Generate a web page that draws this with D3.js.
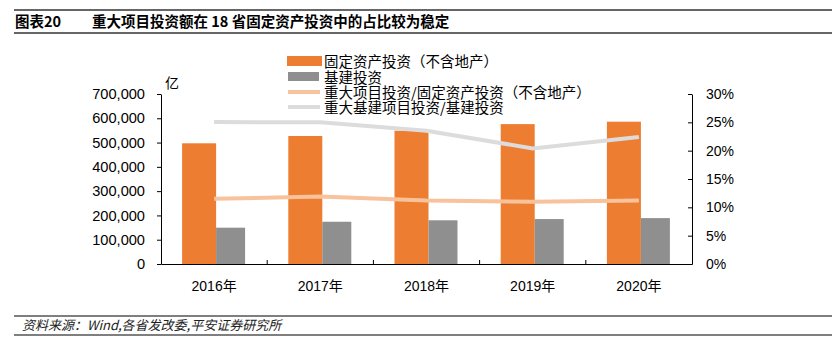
<!DOCTYPE html>
<html><head><meta charset="utf-8">
<script src="https://cdn.jsdelivr.net/npm/d3@7"></script>
<style>
body{margin:0;background:#fff;}
text{font-family:"Liberation Sans","Noto Sans CJK SC",Arial,sans-serif;}
</style></head>
<body><svg id="c" width="837" height="355"></svg>
<script>
const categories = ["2016年","2017年","2018年","2019年","2020年"];
const fixedInvest = [497000, 527000, 549000, 576000, 586000];
const infraInvest = [149500, 174000, 180000, 185000, 189000];
const majorShareFixed = [0.115, 0.119, 0.112, 0.110, 0.112];
const majorInfraShare = [0.2505, 0.250, 0.235, 0.204, 0.224];
const leftTicks = [0,100000,200000,300000,400000,500000,600000,700000];
const rightTicks = [0,0.05,0.10,0.15,0.20,0.25,0.30];
const seriesNames = ["固定资产投资（不含地产）","基建投资","重大项目投资/固定资产投资（不含地产）","重大基建项目投资/基建投资"];
const colors = ["#ED7D31","#8F8F8F","#F8C29C","#DCDCDC"];

const svg = d3.select("#c");
const cjk = '"Noto Sans CJK SC","Liberation Sans",sans-serif';

// Title block
svg.append("line").attr("x1",14).attr("x2",832).attr("y1",10).attr("y2",10).attr("stroke","#666").attr("stroke-width",2);
svg.append("line").attr("x1",14).attr("x2",832).attr("y1",33).attr("y2",33).attr("stroke","#666").attr("stroke-width",2);
svg.append("text").attr("x",15).attr("y",27).attr("font-size",14.5).attr("font-weight","bold").style("font-family",cjk).attr("fill","#000").text("图表20");
svg.append("text").attr("x",92).attr("y",27).attr("font-size",14.5).attr("font-weight","bold").style("font-family",cjk).attr("fill","#000").text("重大项目投资额在 18 省固定资产投资中的占比较为稳定");

// Footer
svg.append("line").attr("x1",14).attr("x2",832).attr("y1",316).attr("y2",316).attr("stroke","#555").attr("stroke-width",1.5);
svg.append("line").attr("x1",14).attr("x2",832).attr("y1",335).attr("y2",335).attr("stroke","#555").attr("stroke-width",1.5);
svg.append("text").attr("x",22).attr("y",330).attr("font-size",13).attr("font-style","italic").style("font-family",cjk).attr("fill","#222").text("资料来源：Wind,各省发改委,平安证券研究所");

const x = d3.scaleBand().domain(categories).range([161,692]).padding(0);
const yL = d3.scaleLinear().domain([0,700000]).range([264,94]);
const yR = d3.scaleLinear().domain([0,0.30]).range([264,94]);
const bw = x.bandwidth();

// Bars
const g = svg.append("g");
g.selectAll(".b1").data(categories).enter().append("rect")
  .attr("x",d=>x(d)+bw/2-32).attr("width",34)
  .attr("y",(d,i)=>yL(fixedInvest[i])).attr("height",(d,i)=>yL(0)-yL(fixedInvest[i]))
  .attr("fill",colors[0]);
g.selectAll(".b2").data(categories).enter().append("rect")
  .attr("x",d=>x(d)+bw/2+2).attr("width",29)
  .attr("y",(d,i)=>yL(infraInvest[i])).attr("height",(d,i)=>yL(0)-yL(infraInvest[i]))
  .attr("fill",colors[1]);

// Lines
const line = d3.line().x(d=>x(d.c)+bw/2).y(d=>yR(d.v));
svg.append("path").datum(categories.map((c,i)=>({c,v:majorShareFixed[i]})))
  .attr("d",line).attr("fill","none").attr("stroke",colors[2]).attr("stroke-width",4);
svg.append("path").datum(categories.map((c,i)=>({c,v:majorInfraShare[i]})))
  .attr("d",line).attr("fill","none").attr("stroke",colors[3]).attr("stroke-width",4);

// Axes
const ax = svg.append("g").attr("transform","translate(161,0)")
  .call(d3.axisLeft(yL).tickValues(leftTicks).tickFormat(d3.format(",")).tickSize(4).tickSizeOuter(0).tickPadding(12));
ax.selectAll("text").attr("font-size",14.6).attr("fill","#000").style("font-family",'"Liberation Sans",Arial,sans-serif');
ax.selectAll("path,line").attr("stroke","#000");

const ar = svg.append("g").attr("transform","translate(692,0)")
  .call(d3.axisRight(yR).tickValues(rightTicks).tickFormat(d3.format(".0%")).tickSizeInner(-4).tickSizeOuter(0).tickPadding(14));
ar.selectAll("text").attr("font-size",14).attr("fill","#000").style("font-family",'"Liberation Sans",Arial,sans-serif');
ar.selectAll("path,line").attr("stroke","#000");

const axb = svg.append("g").attr("transform","translate(0,264)")
  .call(d3.axisBottom(x).tickSize(0).tickPadding(17));
axb.selectAll("text").attr("font-size",14).attr("fill","#000").style("font-family",'"Liberation Sans","Noto Sans CJK SC",sans-serif');
axb.select("path").attr("stroke","#000");
svg.selectAll(".xt").data(categories.slice(1)).enter().append("line")
  .attr("x1",d=>x(d)).attr("x2",d=>x(d)).attr("y1",264).attr("y2",260).attr("stroke","#000");

// Unit
svg.append("text").attr("x",165).attr("y",88).attr("font-size",14).style("font-family",cjk).attr("fill","#000").text("亿");

// Legend
const lg = svg.append("g");
const ly = [61.5,77,92,107];
lg.append("rect").attr("x",287).attr("y",ly[0]-5.5).attr("width",35).attr("height",10).attr("fill",colors[0]);
lg.append("rect").attr("x",288).attr("y",ly[1]-5).attr("width",31).attr("height",9).attr("fill",colors[1]);
lg.append("line").attr("x1",288).attr("x2",320).attr("y1",ly[2]).attr("y2",ly[2]).attr("stroke",colors[2]).attr("stroke-width",4);
lg.append("line").attr("x1",288).attr("x2",320).attr("y1",ly[3]).attr("y2",ly[3]).attr("stroke",colors[3]).attr("stroke-width",4);
seriesNames.forEach((n,i)=>{
  lg.append("text").attr("x",324).attr("y",ly[i]+5.5).attr("font-size",14.5).style("font-family",cjk).attr("fill","#000").text(n);
});
</script></body></html>
